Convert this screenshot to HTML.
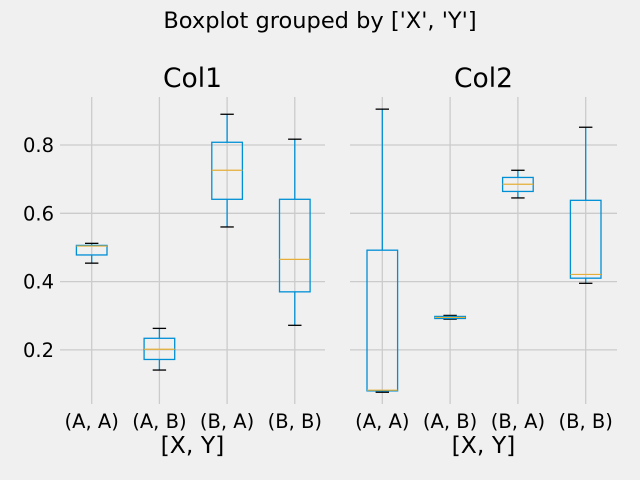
<!DOCTYPE html>
<html><head><meta charset="utf-8"><style>
body{margin:0;background:#f0f0f0;}
svg{display:block;font-family:"DejaVu Sans","Liberation Sans",sans-serif;}
</style></head><body>
<svg id="chart" width="640" height="480">
<rect width="640" height="480" fill="#f0f0f0"/>
<text x="320" y="28" font-size="22.5" text-anchor="middle" fill="#000">Boxplot grouped by ['X', 'Y']</text>
</svg>
<script>
const categories = ["(A, A)", "(A, B)", "(B, A)", "(B, B)"];
const panelTitles = ["Col1", "Col2"];
const yTicks = [0.2, 0.4, 0.6, 0.8];
const yTickLabels = ["0.2", "0.4", "0.6", "0.8"];
// [lowWhisker, q1, median, q3, highWhisker]
const col1Stats = [
  [0.454, 0.478, 0.504, 0.506, 0.512],
  [0.141, 0.172, 0.202, 0.234, 0.263],
  [0.560, 0.641, 0.726, 0.808, 0.890],
  [0.272, 0.370, 0.465, 0.641, 0.817]
];
const col2Stats = [
  [0.076, 0.080, 0.082, 0.492, 0.905],
  [0.290, 0.292, 0.295, 0.298, 0.301],
  [0.645, 0.664, 0.685, 0.705, 0.726],
  [0.395, 0.410, 0.421, 0.638, 0.852]
];
const svg = document.getElementById('chart');
const NS = 'http://www.w3.org/2000/svg';
function mk(tag, attrs, parent) {
  const e = document.createElementNS(NS, tag);
  for (const k in attrs) e.setAttribute(k, attrs[k]);
  (parent || svg).appendChild(e);
  return e;
}
function yScale(v) { return 145 + (0.8 - v) * 341.5; }
const panels = [
  {x0: 60, x1: 325, first: 91.7, step: 67.7, stats: col1Stats, showY: true},
  {x0: 350, x1: 617, first: 382.3, step: 67.8, stats: col2Stats, showY: false}
];
panels.forEach((p, pi) => {
  const g = mk('g', {});
  
  
  const xs = i => p.first + i * p.step;
  yTicks.forEach((t, ti) => {
    const l = mk('line', {x1: p.x0, x2: p.x1, y1: yScale(t), y2: yScale(t), stroke: '#cbcbcb', 'stroke-width': 1.3}, g);
    
    
    if (p.showY) {
      const tx = mk('text', {x: 54, y: yScale(t) + 7, 'font-size': 19.5, 'text-anchor': 'end', fill: '#000'}, g);
      tx.textContent = yTickLabels[ti];
      
      
    }
  });
  categories.forEach((c, i) => {
    const l = mk('line', {x1: xs(i), x2: xs(i), y1: 97, y2: 404, stroke: '#cbcbcb', 'stroke-width': 1.3}, g);
    
    
    const tx = mk('text', {x: xs(i), y: 428, 'font-size': 19.5, 'text-anchor': 'middle', fill: '#000'}, g);
    tx.textContent = c;
    
    
  });
  p.stats.forEach((s, i) => {
    const cx = xs(i), hw = 15.3, cw = 6.7;
    const bg = mk('g', {}, g);
    
    
    mk('line', {x1: cx, x2: cx, y1: yScale(s[0]), y2: yScale(s[1]), stroke: '#008fd5', 'stroke-width': 1.3}, bg);
    mk('line', {x1: cx, x2: cx, y1: yScale(s[3]), y2: yScale(s[4]), stroke: '#008fd5', 'stroke-width': 1.3}, bg);
    mk('line', {x1: cx - cw, x2: cx + cw, y1: yScale(s[0]), y2: yScale(s[0]), stroke: '#000', 'stroke-width': 1.3}, bg);
    mk('line', {x1: cx - cw, x2: cx + cw, y1: yScale(s[4]), y2: yScale(s[4]), stroke: '#000', 'stroke-width': 1.3}, bg);
    mk('rect', {x: cx - hw, y: yScale(s[3]), width: 2 * hw, height: Math.max(0.5, yScale(s[1]) - yScale(s[3])), fill: 'none', stroke: '#008fd5', 'stroke-width': 1.3}, bg);
    mk('line', {x1: cx - hw, x2: cx + hw, y1: yScale(s[2]), y2: yScale(s[2]), stroke: '#e5ae38', 'stroke-width': 1.2}, bg);
  });
  const tt = mk('text', {x: (p.x0 + p.x1) / 2, y: 87, 'font-size': 26.5, 'text-anchor': 'middle', fill: '#000'}, g);
  tt.textContent = panelTitles[pi];
  
  
  const xl = mk('text', {x: (p.x0 + p.x1) / 2, y: 453, 'font-size': 23.5, 'text-anchor': 'middle', fill: '#000'}, g);
  xl.textContent = '[X, Y]';
  
  
});
</script>
</body></html>
